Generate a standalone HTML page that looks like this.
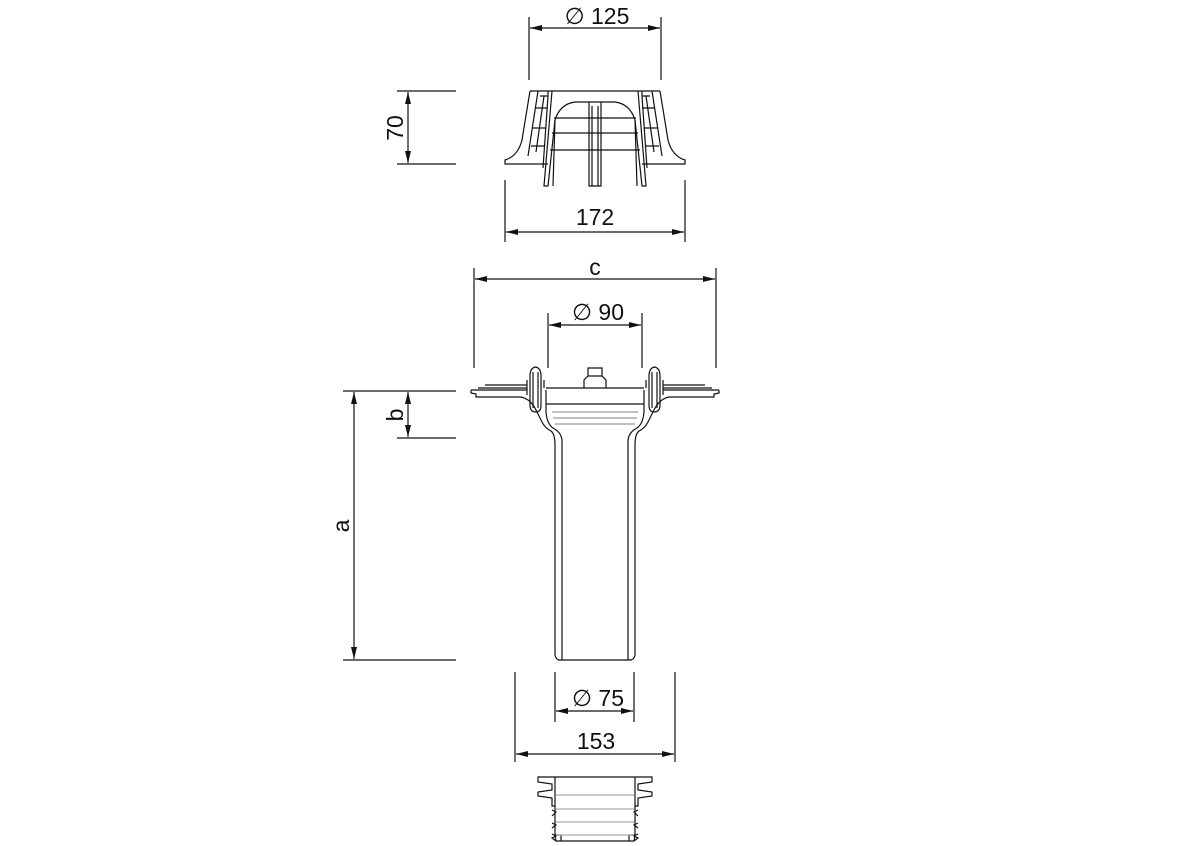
<!DOCTYPE html>
<html><head><meta charset="utf-8"><style>
html,body{margin:0;padding:0;background:#fff;}
svg{display:block}
text{font-family:"Liberation Sans",sans-serif;font-size:23px;fill:#111}
</style></head><body>
<svg width="1200" height="846" viewBox="0 0 1200 846" xmlns="http://www.w3.org/2000/svg">
<defs>
<marker id="ar" viewBox="0 0 12 6" refX="12" refY="3" markerWidth="12" markerHeight="6" orient="auto-start-reverse" markerUnits="userSpaceOnUse">
<path d="M0,0 L12,3 L0,6 Z" fill="#111"/></marker>
</defs>
<g stroke="#111" stroke-width="1.2" fill="none">
<line x1="529" y1="17" x2="529" y2="80"/><line x1="661" y1="17" x2="661" y2="80"/>
<line x1="530" y1="28" x2="660" y2="28" marker-start="url(#ar)" marker-end="url(#ar)"/>
<line x1="397" y1="91" x2="456" y2="91"/><line x1="397" y1="164" x2="456" y2="164"/>
<line x1="408" y1="92" x2="408" y2="163" marker-start="url(#ar)" marker-end="url(#ar)"/>
<line x1="505" y1="180" x2="505" y2="242"/><line x1="685" y1="180" x2="685" y2="242"/>
<line x1="506" y1="232" x2="684" y2="232" marker-start="url(#ar)" marker-end="url(#ar)"/>
<line x1="474" y1="268" x2="474" y2="368"/><line x1="716" y1="268" x2="716" y2="368"/>
<line x1="475" y1="279" x2="715" y2="279" marker-start="url(#ar)" marker-end="url(#ar)"/>
<line x1="548" y1="313" x2="548" y2="368"/><line x1="642" y1="313" x2="642" y2="368"/>
<line x1="549" y1="325" x2="641" y2="325" marker-start="url(#ar)" marker-end="url(#ar)"/>
<line x1="343" y1="391" x2="456" y2="391"/><line x1="397" y1="438" x2="456" y2="438"/>
<line x1="343" y1="660" x2="456" y2="660"/>
<line x1="408" y1="392" x2="408" y2="437" marker-start="url(#ar)" marker-end="url(#ar)"/>
<line x1="354" y1="392" x2="354" y2="659" marker-start="url(#ar)" marker-end="url(#ar)"/>
<line x1="555" y1="672" x2="555" y2="722"/><line x1="634" y1="672" x2="634" y2="722"/>
<line x1="556" y1="711" x2="633" y2="711" marker-start="url(#ar)" marker-end="url(#ar)"/>
<line x1="515" y1="672" x2="515" y2="762"/><line x1="675" y1="672" x2="675" y2="762"/>
<line x1="516" y1="754" x2="674" y2="754" marker-start="url(#ar)" marker-end="url(#ar)"/>

<g id="gl">
<path d="M530,91 L595,91 M530,91 L522,140 Q518,156 505,160 L505,164 L548,164"/>
<path d="M538,91 L528,156"/>
<path d="M540,96 L548,96 L543,168 M548,91 L548,96 M544,96 L536,152"/>
<path d="M536,108 L548,108 M533,128 L546,128 M531,146 L545,146"/>
<path d="M552,91 L544,186 L548,186 L555,120 Q560,104 575,102 L595,102"/>
<path d="M555,120 L553,186"/>
<path d="M554,118 L595,118 M552,133 L595,133 M550,150 L595,150"/>
<path d="M589,102 L589,186 L595,186 M592,106 L592,186"/>
</g>
<use href="#gl" transform="translate(1190,0) scale(-1,1)"/>

<g id="dl">
<path d="M471,390 L527,390 M471,390 L471,393 L476,394 L476,397 L520,397 Q530,398 536,410 L542,422 Q545,428 551,431 Q555,434 555,445 L555,655 Q556,660 560,660 L595,660"/>
<path d="M485,385 L527,385 M478,388 L527,388"/>
<path d="M562,440 L562,660 M562,440 Q561,432 553,428 Q547,424 546,412 L546,390"/>
<path d="M530,376 L530,405 Q530,412 536,412 Q541,412 541,405 L541,376 Q541,368 535.5,367 Q530,368 530,376 Z"/>
<path d="M533,372 L533,408 M538,372 L538,408"/>
<path d="M527,380 L527,395 M544,380 L544,388"/>
<path d="M546,388 L595,388 M546,404 L595,404"/>
<path d="M552,412 L595,412 M553,418 L595,418 M555,424 L595,424" stroke="#999"/>
<path d="M584,388 L584,380 L588,376 L595,376 M588,376 L588,368 L595,368"/>
</g>
<use href="#dl" transform="translate(1190,0) scale(-1,1)"/>

<g id="cl">
<path d="M555,777 L595,777 M555,777 L538,777 L538,782 L552,784 L552,790 L538,792 L538,796 L552,798 L552,806 L555,806 M552,810 L556,812 L552,816 M552,823 L556,825 L552,828 M552,834 L556,836 L552,838 L556,841 L595,841"/>
<path d="M555,777 L555,836 L556,841 M561,835 L561,841 M555,835 L561,835"/>
</g>
<use href="#cl" transform="translate(1190,0) scale(-1,1)"/>
<path d="M556,795 L634,795 M556,809 L634,809 M556,822 L634,822 M556,835 L634,835" stroke="#aaa"/>
</g>
<text x="597" y="24" text-anchor="middle">∅ 125</text>
<text x="595" y="225" text-anchor="middle">172</text>
<text x="595" y="275" text-anchor="middle">c</text>
<text x="598" y="320" text-anchor="middle">∅ 90</text>
<text x="598" y="706" text-anchor="middle">∅ 75</text>
<text x="596" y="749" text-anchor="middle">153</text>
<text transform="translate(403,128) rotate(-90)" text-anchor="middle">70</text>
<text transform="translate(403,415) rotate(-90)" text-anchor="middle">b</text>
<text transform="translate(349,526) rotate(-90)" text-anchor="middle">a</text>
</svg>
</body></html>
